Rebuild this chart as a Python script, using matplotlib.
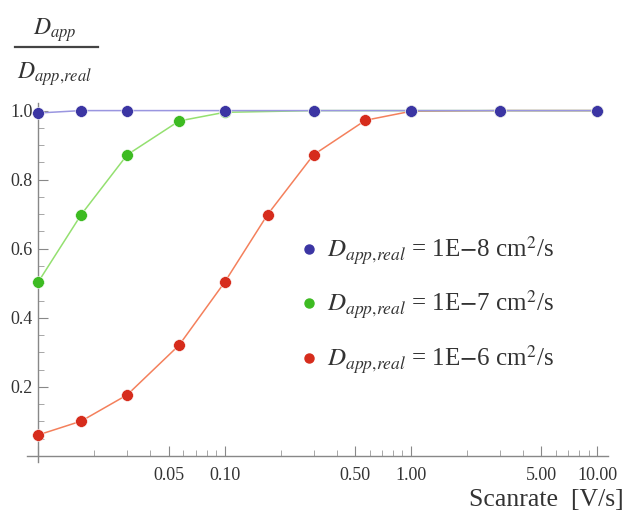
import numpy as np
import matplotlib
matplotlib.use("Agg")
import matplotlib.pyplot as plt
from matplotlib.lines import Line2D
from matplotlib.ticker import FixedLocator, NullFormatter

plt.rcParams['font.family'] = 'serif'
plt.rcParams['font.serif'] = ['Liberation Serif', 'DejaVu Serif']
plt.rcParams['mathtext.fontset'] = 'stix'

# scan rates [V/s] and apparent/real diffusion ratio
x_blue = [0.01, 0.017, 0.03, 0.1, 0.3, 1.0, 3.0, 10.0]
y_blue = [0.993, 1.0, 1.0, 1.0, 1.0, 1.0, 1.0, 1.0]

x_green = [0.01, 0.017, 0.03, 0.057, 0.1, 0.3, 1.0, 3.0, 10.0]
y_green = [0.504, 0.699, 0.872, 0.970, 0.995, 1.0, 1.0, 1.0, 1.0]

x_red = [0.01, 0.017, 0.03, 0.057, 0.1, 0.17, 0.3, 0.57, 1.0, 3.0, 10.0]
y_red = [0.061, 0.101, 0.177, 0.321, 0.503, 0.699, 0.872, 0.972, 0.998, 1.0, 1.0]

labels = [r'$D_{app{,}real}$ = 1E$-$8 cm$^2$/s',
          r'$D_{app{,}real}$ = 1E$-$7 cm$^2$/s',
          r'$D_{app{,}real}$ = 1E$-$6 cm$^2$/s']

xticks = [0.01, 0.05, 0.1, 0.5, 1.0, 5.0, 10.0]
xticklabels = ['', '0.05', '0.10', '0.50', '1.00', '5.00', '10.00']
yticks = [0.2, 0.4, 0.6, 0.8, 1.0]

mk_cols = ['#3b35a3', '#3dbb22', '#d62c1c']
ln_cols = ['#9a96e0', '#94e070', '#f4805c']

W, H = 626, 515
fig = plt.figure(figsize=(W / 100, H / 100), dpi=100)
ax = fig.add_axes([27 / W, 1 - 462 / H, 581 / W, 359 / H])

series = [(x_red, y_red), (x_green, y_green), (x_blue, y_blue)]
order = [2, 1, 0]
for (xs, ys), i in zip(series, order):
    ax.plot(xs, ys, '-', color=ln_cols[i], lw=1.1, zorder=2)
for (xs, ys), i in zip(series, order):
    ax.plot(xs, ys, 'o', color=mk_cols[i], ms=8.5, mec='white', mew=0.4, zorder=3)

ax.set_xscale('log')
ax.set_xlim(10 ** -2.0606, 10 ** 1.0574)
ax.set_ylim(-0.0174, 1.022)

for s in ['top', 'right']:
    ax.spines[s].set_visible(False)
ax.spines['left'].set_position(('data', 0.01))
ax.spines['bottom'].set_position(('data', 0.0))
for s in ['left', 'bottom']:
    ax.spines[s].set_color('#888888')
    ax.spines[s].set_linewidth(1.0)

ax.xaxis.set_major_locator(FixedLocator(xticks))
ax.set_xticklabels(xticklabels)
minors = [m * d for d in [0.01, 0.1, 1.0] for m in [2, 3, 4, 6, 7, 8, 9]]
ax.xaxis.set_minor_locator(FixedLocator(minors))
ax.xaxis.set_minor_formatter(NullFormatter())

ax.yaxis.set_major_locator(FixedLocator(yticks))
ax.set_yticklabels(['0.2', '0.4', '0.6', '0.8', '1.0'])
ax.yaxis.set_minor_locator(FixedLocator(np.arange(0.05, 1.0, 0.05)))

ax.tick_params(which='major', direction='in', length=7, width=0.8, color='#888888',
               labelsize=13, labelcolor='#333333')
ax.tick_params(which='minor', direction='in', length=4, width=0.6, color='#999999')
ax.tick_params(axis='x', which='major', pad=8)
ax.tick_params(axis='y', which='major', pad=4)

ax.set_xlabel('Scanrate  [V/s]', fontsize=18.5, color='#333333', ha='right', va='center')
ax.xaxis.set_label_coords((624 - 27) / 581, (462 - 500) / 359)

# y label as a fraction
fig.text(55 / W, 1 - 30 / H, r'$D_{app}$', fontsize=17, ha='center', va='center', color='#333333')
fig.text(55 / W, 1 - 74 / H, r'$D_{app{,}real}$', fontsize=17, ha='center', va='center', color='#333333')
fig.add_artist(Line2D([15 / W, 98 / W], [1 - 46.5 / H, 1 - 46.5 / H],
                      color='#444444', lw=1.6, transform=fig.transFigure))

handles = [Line2D([], [], ls='', marker='o', color=c, ms=6.5) for c in mk_cols]
ax.legend(handles, labels, loc='center left', bbox_to_anchor=(299 / W, 1 - 305 / H),
          bbox_transform=fig.transFigure, frameon=False, fontsize=18,
          handlelength=0.8, handletextpad=0.32, labelspacing=0.87, borderpad=0,
          borderaxespad=0, labelcolor='#333333')

fig.savefig('out.png', dpi=100)
